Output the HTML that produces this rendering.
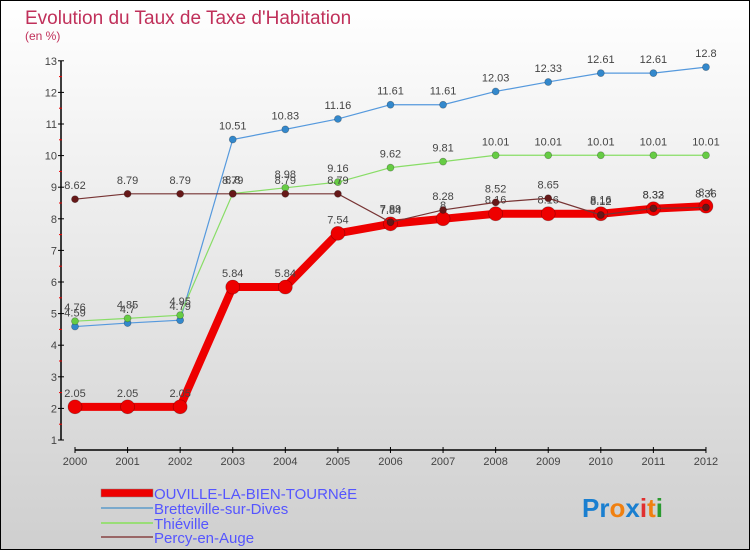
<!DOCTYPE html>
<html><head><meta charset="utf-8"><style>
html,body{margin:0;padding:0}
body{width:750px;height:550px;overflow:hidden}
#wrap{position:absolute;left:0;top:0;width:748px;height:548px;border:1px solid #000;background:linear-gradient(#ffffff,#cfcfcf)}
svg{position:absolute;left:0;top:0}
text{font-family:"Liberation Sans",sans-serif}
</style></head><body>
<div id="wrap"></div>
<svg id="chart" width="750" height="550">
<text x="25" y="24" font-size="19" fill="#c0305a">Evolution du Taux de Taxe d'Habitation</text>
<text x="25" y="40" font-size="12" fill="#c0305a">(en %)</text>
<g id="axes"></g><g id="series"></g>
<g>
<rect x="101" y="489" width="52" height="8" fill="#e00" stroke="#888" stroke-width="0.5"/>
<text x="154" y="499" font-size="15" fill="#5555ff">OUVILLE-LA-BIEN-TOURNéE</text>
<line x1="101" y1="508" x2="153" y2="508" stroke="#7aa9cc" stroke-width="2"/>
<text x="154" y="514" font-size="15" fill="#5555ff">Bretteville-sur-Dives</text>
<line x1="101" y1="523" x2="153" y2="523" stroke="#99dd77" stroke-width="2"/>
<text x="154" y="529" font-size="15" fill="#5555ff">Thiéville</text>
<line x1="101" y1="537" x2="153" y2="537" stroke="#996666" stroke-width="2"/>
<text x="154" y="543" font-size="15" fill="#5555ff">Percy-en-Auge</text>
</g>
<g font-size="26" font-weight="bold">
<text x="470" y="516" fill="#1a7fd0"></text>
<text x="582" y="517"><tspan fill="#1a7fd0">Pr</tspan><tspan fill="#f08010">o</tspan><tspan fill="#1a7fd0">x</tspan><tspan fill="#e03030">i</tspan><tspan fill="#f08010">t</tspan><tspan fill="#2a9a30">i</tspan></text>
</g>
</svg>
<script>
const years=[2000,2001,2002,2003,2004,2005,2006,2007,2008,2009,2010,2011,2012];
const ouville=[2.05,2.05,2.05,5.84,5.84,7.54,7.84,8,8.16,8.16,8.16,8.32,8.4];
const bretteville=[4.59,4.7,4.79,10.51,10.83,11.16,11.61,11.61,12.03,12.33,12.61,12.61,12.8];
const thieville=[4.76,4.85,4.95,8.8,8.98,9.16,9.62,9.81,10.01,10.01,10.01,10.01,10.01];
const percy=[8.62,8.79,8.79,8.79,8.79,8.79,7.89,8.28,8.52,8.65,8.12,8.33,8.36];
const yTicks=[1,2,3,4,5,6,7,8,9,10,11,12,13];
const NS='http://www.w3.org/2000/svg';
const xS=i=>75+i*52.58;
const yS=v=>440-(v-1)*31.6;
function mk(tag,at,parent){const e=document.createElementNS(NS,tag);for(const k in at)e.setAttribute(k,at[k]);parent.appendChild(e);return e;}
const ax=document.getElementById('axes');
let l=mk('line',{x1:61,y1:yS(13),x2:61,y2:yS(1),stroke:'#000','stroke-width':1.5},ax);


yTicks.forEach(v=>{
  const t=mk('line',{x1:58,x2:64,y1:yS(v),y2:yS(v),stroke:'#000'},ax);
  
  
  if(v<13){const m=mk('line',{x1:59,x2:62,y1:yS(v+0.5),y2:yS(v+0.5),stroke:'#e00'},ax);
  
  }
  const tx=mk('text',{x:57,y:yS(v)+4,'font-size':11,fill:'#444','text-anchor':'end'},ax);
  tx.textContent=v;
  
  
});
l=mk('line',{x1:xS(0),y1:450,x2:xS(12),y2:450,stroke:'#000','stroke-width':1.5},ax);


years.forEach((y,i)=>{
  const t=mk('line',{x1:xS(i),x2:xS(i),y1:447,y2:453,stroke:'#000'},ax);
  
  
  const tx=mk('text',{x:xS(i),y:465,'font-size':11,fill:'#444','text-anchor':'middle'},ax);
  tx.textContent=y;
  
  
});
const sg=document.getElementById('series');
function draw(vals,color,dot,w,r,name){
  const g=mk('g',{},sg);
  
  
  const p=mk('polyline',{points:vals.map((v,i)=>xS(i)+','+yS(v)).join(' '),fill:'none',stroke:color,'stroke-width':w,'stroke-linejoin':'miter'},g);
  
  
  vals.forEach((v,i)=>{
    const c=mk('circle',{cx:xS(i),cy:yS(v),r:r,fill:dot,stroke:'rgba(0,0,0,0.3)','stroke-width':0.7},g);
    
    
    const t=mk('text',{x:xS(i),y:yS(v)-10,'font-size':11,fill:'#444','text-anchor':'middle'},g);
    t.textContent=String(v);
    
    
  });
}
draw(ouville,'#ee0000','#ee0000',8,7,'ouville');
draw(bretteville,'#5599dd','#3388cc',1.2,3.5,'bretteville');
draw(thieville,'#88dd66','#66cc44',1.2,3.5,'thieville');
draw(percy,'#773333','#661818',1.2,3.5,'percy');
</script>
</body></html>
